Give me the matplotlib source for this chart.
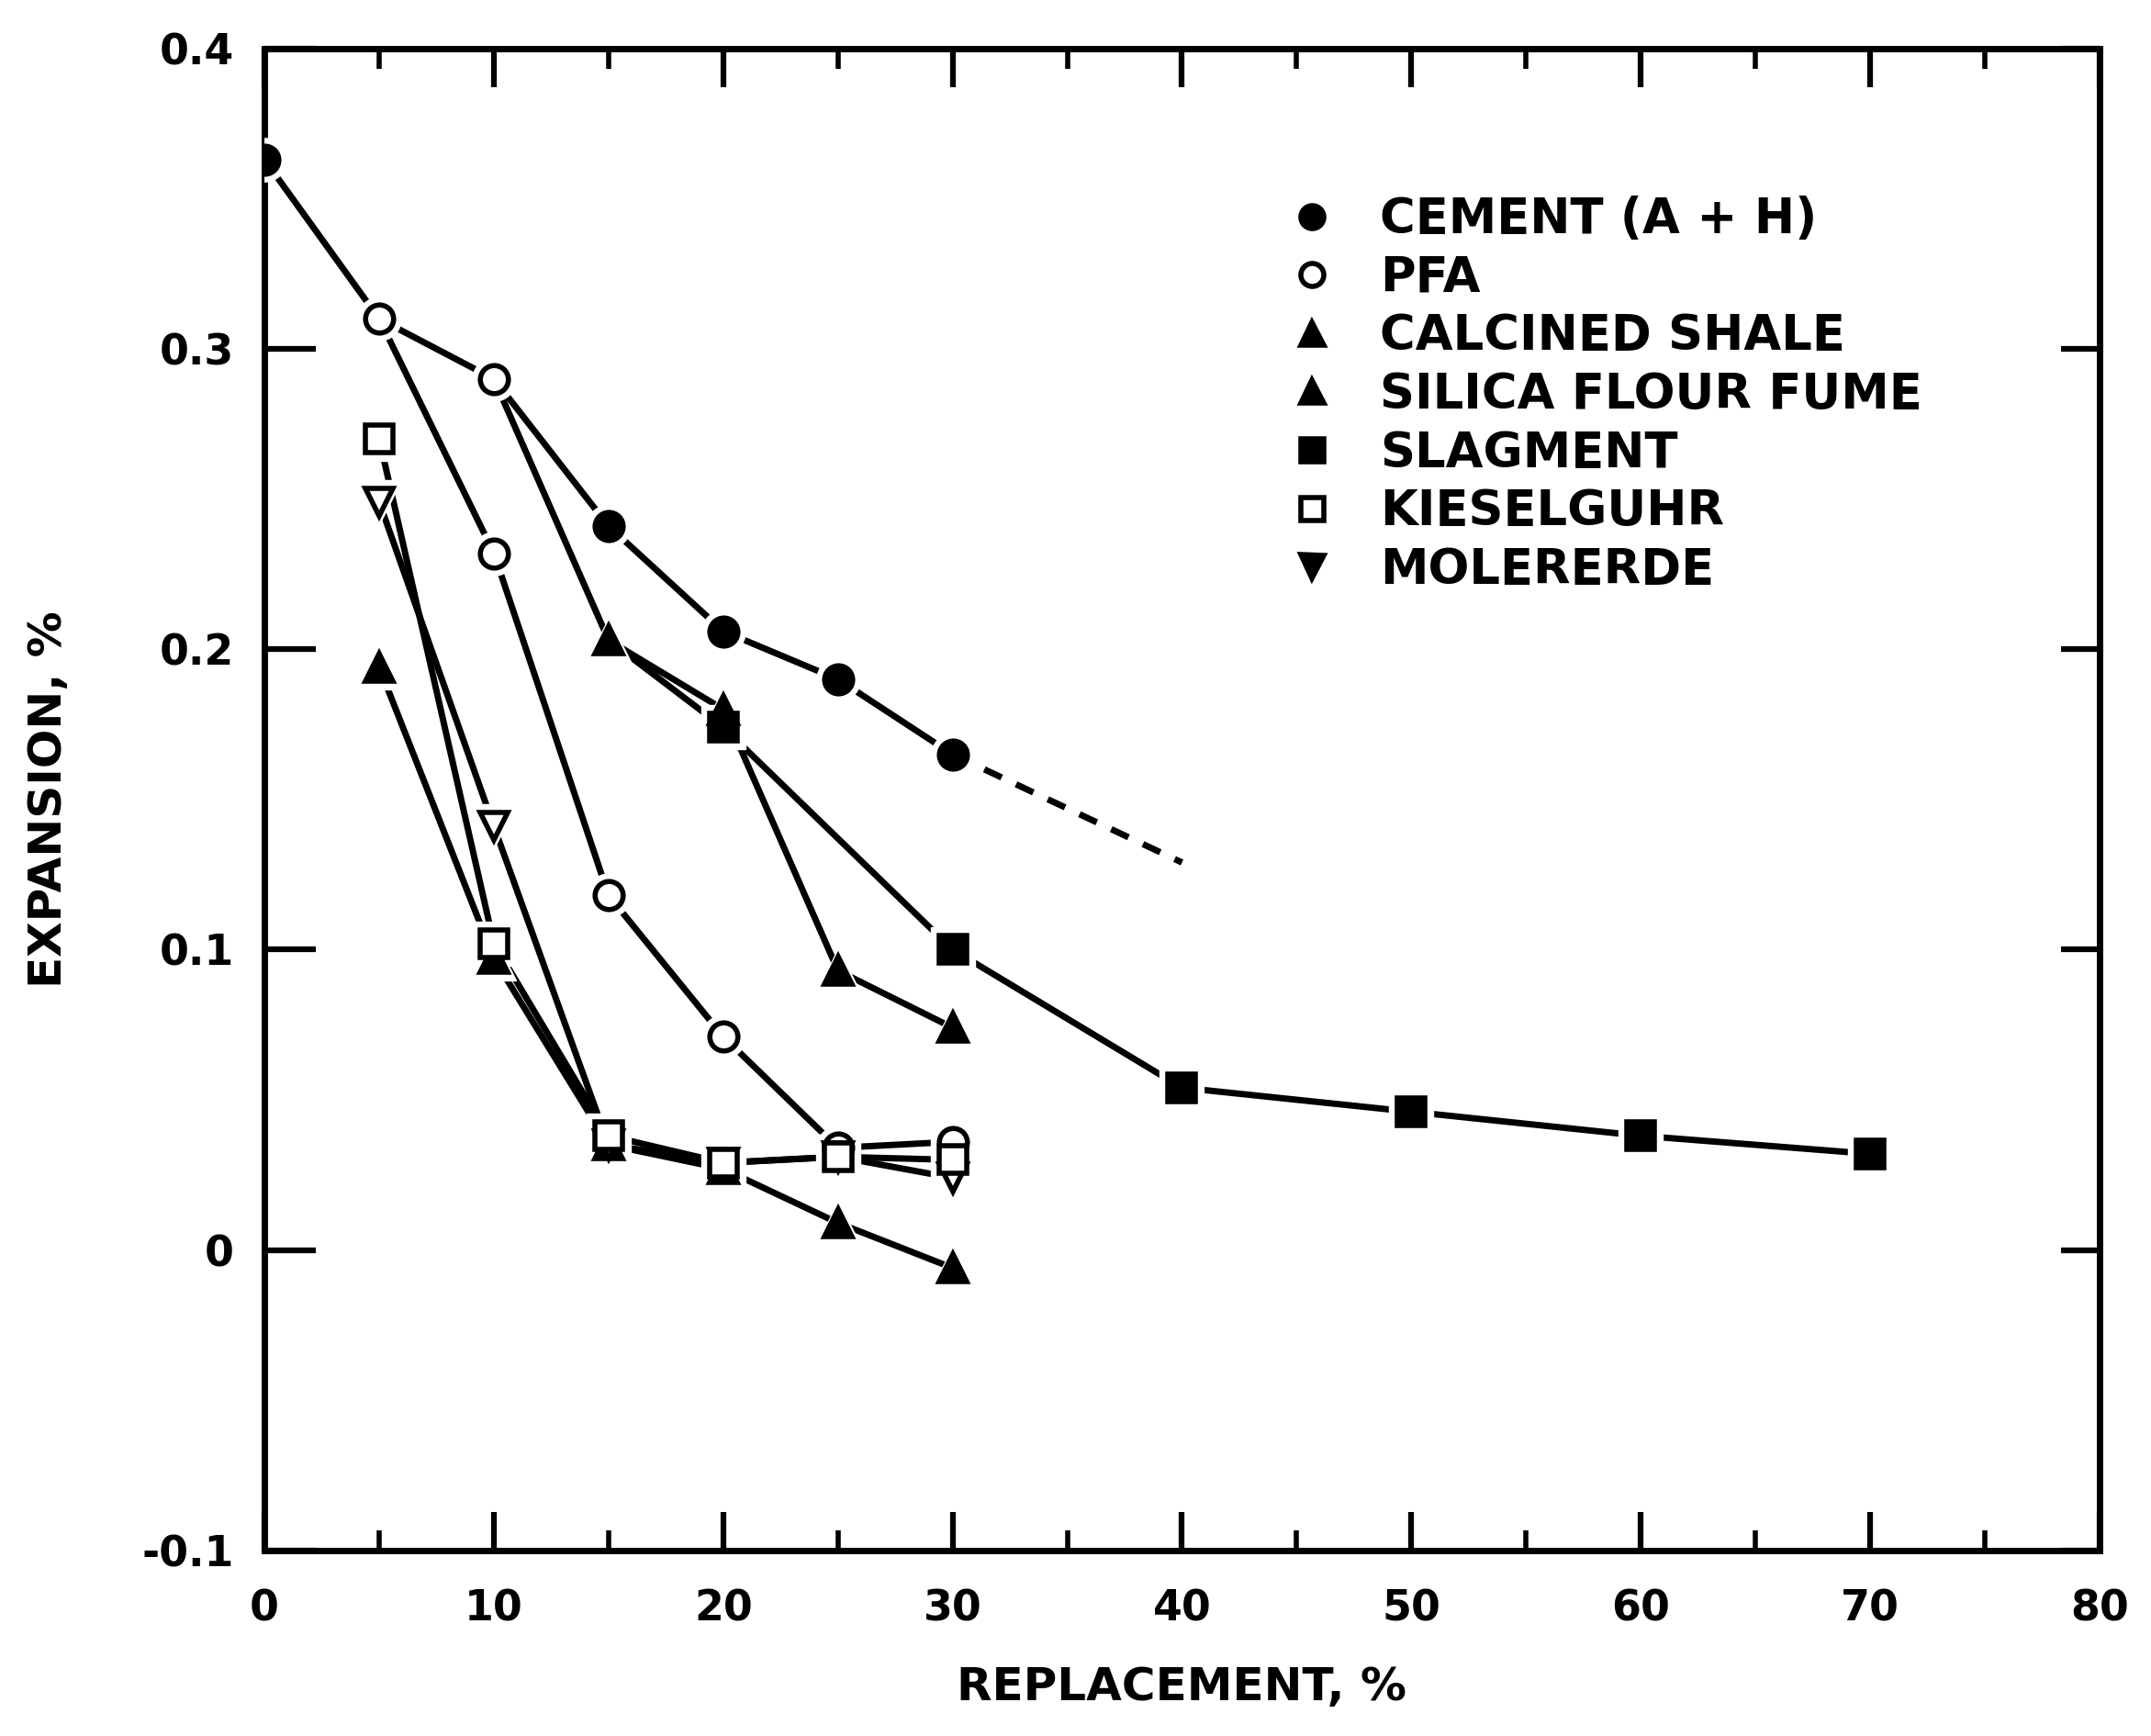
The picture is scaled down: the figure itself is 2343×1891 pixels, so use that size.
import matplotlib.pyplot as plt
from matplotlib.lines import Line2D
from matplotlib.ticker import MultipleLocator

# values (replacement %, expansion %)
cement_x = [0, 5, 10, 15, 20, 25, 30]
cement_y = [0.363, 0.310, 0.290, 0.241, 0.206, 0.190, 0.165]
cement_open = [False, True, True, False, False, False, False]
cement_ext_x = [30, 40]
cement_ext_y = [0.165, 0.129]

pfa_x = [5, 10, 15, 20, 25, 30]
pfa_y = [0.310, 0.232, 0.118, 0.071, 0.034, 0.036]

calcined_x = [10, 15, 20, 25, 30]
calcined_y = [0.290, 0.203, 0.180, 0.093, 0.074]

silica_x = [5, 10, 15, 20, 25, 30]
silica_y = [0.194, 0.097, 0.035, 0.027, 0.009, -0.006]

slag_x = [15, 20, 30, 40, 50, 60, 70]
slag_y = [0.203, 0.174, 0.100, 0.054, 0.046, 0.038, 0.032]

kiesel_x = [5, 10, 15, 20, 25, 30]
kiesel_y = [0.270, 0.102, 0.038, 0.029, 0.031, 0.030]

moler_x = [5, 10, 15, 20, 25, 30]
moler_y = [0.249, 0.141, 0.035, 0.029, 0.031, 0.024]

labels = ["CEMENT (A + H)", "PFA", "CALCINED SHALE", "SILICA FLOUR FUME",
          "SLAGMENT", "KIESELGUHR", "MOLERERDE"]
x_ticks = [0, 10, 20, 30, 40, 50, 60, 70, 80]
y_ticks = [-0.1, 0, 0.1, 0.2, 0.3, 0.4]
y_ticklabels = ["-0.1", "0", "0.1", "0.2", "0.3", "0.4"]

plt.rcParams['font.family'] = ['DejaVu Sans']
plt.rcParams['font.weight'] = 'bold'

fig = plt.figure(figsize=(23.43, 18.91), dpi=100)
ax = fig.add_axes([0.123, 0.107, 0.853, 0.865])

LW = 5
MS = 22


def draw(xs, ys, marker, filled, start=0, ls='-'):
    # line, then a white halo so the line breaks around each marker, then the marker
    ax.plot(xs, ys, color='black', lw=LW, ls=ls, solid_capstyle='round', zorder=2)
    for i in range(start, len(xs)):
        ax.plot(xs[i], ys[i], marker=marker, ms=MS + 12, color='white', mec='white', zorder=3)
        ax.plot(xs[i], ys[i], marker=marker, ms=MS, mec='black', mew=4,
                mfc='black' if filled[i] else 'white', zorder=4)


draw(cement_x, cement_y, 'o', [not o for o in cement_open])
ax.plot(cement_ext_x, cement_ext_y, color='black', lw=LW, ls=(0, (3, 2.5)), zorder=2)
draw(pfa_x, pfa_y, 'o', [False] * len(pfa_x), start=1)
draw(calcined_x, calcined_y, '^', [True] * len(calcined_x), start=1)
draw(slag_x, slag_y, 's', [True] * len(slag_x), start=1)
draw(silica_x, silica_y, '^', [True] * len(silica_x))
draw(moler_x, moler_y, 'v', [False] * len(moler_x))
draw(kiesel_x, kiesel_y, 's', [False] * len(kiesel_x))

ax.set_xlim(0, 80)
ax.set_ylim(-0.1, 0.4)
ax.set_xticks(x_ticks)
ax.xaxis.set_minor_locator(MultipleLocator(5))
ax.set_yticks(y_ticks)
ax.set_yticklabels(y_ticklabels)
ax.tick_params(which='major', direction='in', length=30, width=4.5,
               top=True, right=True, labelsize=33)
ax.tick_params(axis='x', which='major', pad=30)
ax.tick_params(axis='y', which='major', pad=24)
ax.tick_params(which='minor', direction='in', length=16, width=4,
               top=True, right=False, left=False)
# left ticks are a bit longer than the right ones in the original
for t in ax.yaxis.get_major_ticks():
    t.tick1line.set_markersize(40)
for s in ax.spines.values():
    s.set_linewidth(5)

ax.set_xlabel("REPLACEMENT, %", fontsize=36, fontweight='bold', labelpad=28)
ax.set_ylabel("EXPANSION, %", fontsize=36, fontweight='bold', labelpad=56)

markers = ['o', 'o', '^', '^', 's', 's', 'v']
fills = ['black', 'white', 'black', 'black', 'black', 'white', 'black']
handles = [Line2D([], [], ls='none', marker=m, ms=18, mec='black', mew=4, mfc=f)
           for m, f in zip(markers, fills)]
ax.legend(handles, labels, loc='upper left', bbox_to_anchor=(0.547, 0.915),
          frameon=False, fontsize=38, handlelength=1.0, handletextpad=0.9,
          labelspacing=0.22, borderaxespad=0)

fig.savefig("out.png", dpi=100)
